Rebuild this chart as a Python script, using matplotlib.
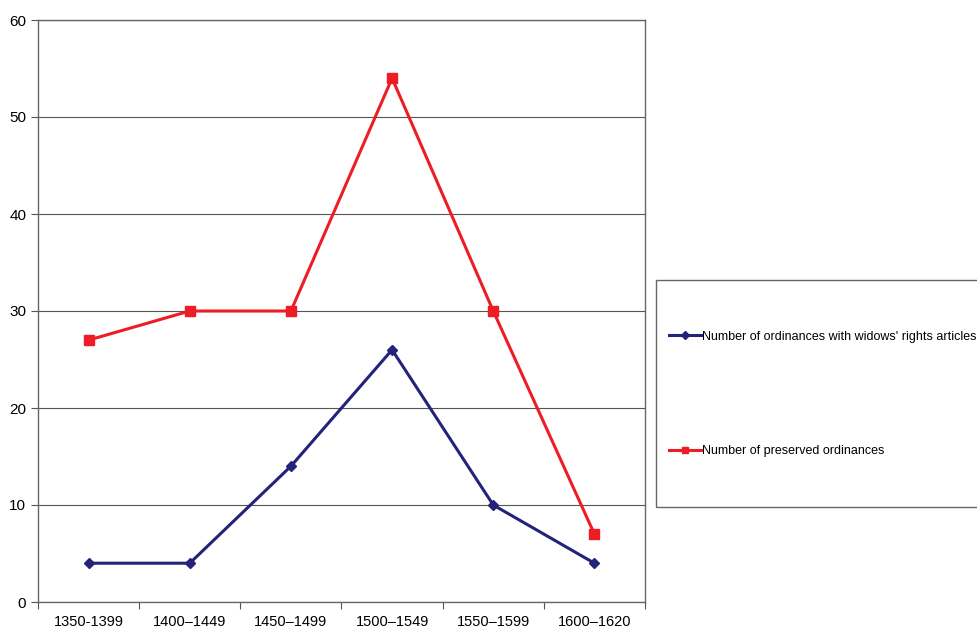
import numpy as np
import matplotlib.pyplot as plt
from matplotlib.patches import Rectangle

plt.rcParams['font.family'] = ['Liberation Sans', 'DejaVu Sans']

# данные
periods = ['1350-1399', '1400\u20131449', '1450\u20131499', '1500\u20131549', '1550\u20131599', '1600\u20131620']
widows = [4, 4, 14, 26, 10, 4]
preserved = [27, 30, 30, 54, 30, 7]

fig = plt.figure(figsize=(9.78, 6.3), dpi=100)
ax = fig.add_axes([38 / 978, 28 / 630, 607 / 978, 582 / 630])

x = np.arange(len(periods)) + 0.5
ax.plot(x, widows, color='#23237a', lw=2.2, marker='D', ms=5.5,
        label="Number of ordinances with widows' rights articles")
ax.plot(x, preserved, color='#ee1c25', lw=2.2, marker='s', ms=6.5,
        label='Number of preserved ordinances')

ax.set_xlim(0, len(periods))
ax.set_ylim(0, 60)
ax.set_yticks(np.arange(0, 61, 10))
ax.yaxis.grid(True, color='#555555', lw=0.8)
ax.set_axisbelow(True)

# тики на границах категорий, подписи по центру
ax.set_xticks(np.arange(len(periods) + 1))
ax.set_xticklabels([])
ax.set_xticks(x, minor=True)
ax.set_xticklabels(periods, minor=True, fontsize=10.5)
ax.tick_params(axis='x', which='major', length=5, color='#555555')
ax.tick_params(axis='x', which='minor', length=0, pad=9)
ax.tick_params(axis='y', length=5, color='#555555', labelsize=11)

for s in ax.spines.values():
    s.set_color('#666666')
    s.set_linewidth(1.0)

# рамка легенды
fig.patches.append(Rectangle((656 / 978, 123 / 630), 330 / 978, 227 / 630,
                             transform=fig.transFigure, fill=False,
                             edgecolor='#666666', lw=1.0))
fig.legend(loc='center left', bbox_to_anchor=(664 / 978, 236 / 630),
           frameon=False, fontsize=9, labelspacing=8.2, markerscale=0.7,
           handlelength=2.6, handletextpad=0.05, borderaxespad=0)

fig.savefig('out.png', dpi=100)
